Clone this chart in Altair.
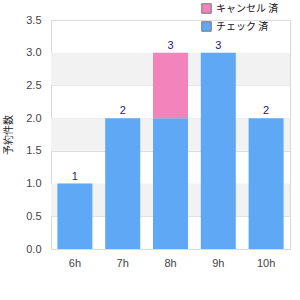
import altair as alt
import pandas as pd

hours = ["6h", "7h", "8h", "9h", "10h"]
series_a = "チェック 済"   # blue series
series_b = "キャンセル 済"   # pink series
values_a = [1, 2, 2, 3, 2]
values_b = [0, 0, 1, 0, 0]
y_title = "予約件数"
y_ticks = [0, 0.5, 1, 1.5, 2, 2.5, 3, 3.5]
band_lo = [0.5, 1.5, 2.5]
band_hi = [1.0, 2.0, 3.0]

rows = []
for h, a, b in zip(hours, values_a, values_b):
    rows.append({"hour": h, "series": series_a, "value": a, "ord": 0})
    if b:
        rows.append({"hour": h, "series": series_b, "value": b, "ord": 1})
df = pd.DataFrame(rows)
totals = pd.DataFrame({"hour": hours, "total": [a + b for a, b in zip(values_a, values_b)]})
bands = pd.DataFrame({"lo": band_lo, "hi": band_hi})

yscale = alt.Scale(domain=[0, 3.5])
xscale = alt.Scale(paddingInner=0.27, paddingOuter=0.135)
font = "Liberation Sans"
cjk = "Noto Sans CJK JP"

y_axis = alt.Axis(title=y_title, values=y_ticks, format=".1f",
                  ticks=False, domain=False, gridColor="#dddddd", labelOverlap=False,
                  labelFont=font, labelFontSize=11, labelColor="#444", labelPadding=10,
                  titleFont=cjk, titleFontSize=10, titleFontWeight="normal",
                  titleColor="#222", titlePadding=12)
x_axis = alt.Axis(title=None, labelAngle=0, ticks=False, domain=False,
                  labelFont=font, labelFontSize=11, labelColor="#444", labelPadding=8)

bg = alt.Chart(bands).mark_rect(color="#f2f2f2").encode(
    x=alt.value(0), x2=alt.value("width"),
    y=alt.Y("lo:Q", scale=yscale, axis=y_axis), y2="hi:Q",
)

bars = alt.Chart(df).mark_bar(size=35).encode(
    x=alt.X("hour:N", sort=hours, scale=xscale, axis=x_axis),
    y=alt.Y("value:Q", stack="zero", scale=yscale, axis=y_axis),
    color=alt.Color("series:N", scale=alt.Scale(domain=[series_b, series_a], range=["#f283bb", "#5fa8f5"]),
                    legend=alt.Legend(title=None, orient="none", legendX=150, legendY=-17,
                                      symbolType="square", symbolSize=90, symbolStrokeColor="#777",
                                      symbolStrokeWidth=1, labelFont=cjk, labelFontSize=10,
                                      labelColor="#111", rowPadding=3)),
    order=alt.Order("ord:Q"),
)

labels = alt.Chart(totals).mark_text(dy=-7, font=font, fontSize=11, color="#1a1a8c").encode(
    x=alt.X("hour:N", sort=hours, scale=xscale, axis=x_axis),
    y=alt.Y("total:Q", scale=yscale, axis=y_axis),
    text="total:Q",
)

chart = alt.layer(bg, bars, labels).properties(
    width=239, height=229,
    autosize=alt.AutoSizeParams(type="none"),
    padding={"left": 51, "top": 20, "right": 10, "bottom": 51},
).configure_view(stroke="#d8d8d8", strokeWidth=1)

chart.save("out.html", embed_options={"renderer": "svg", "actions": False})
